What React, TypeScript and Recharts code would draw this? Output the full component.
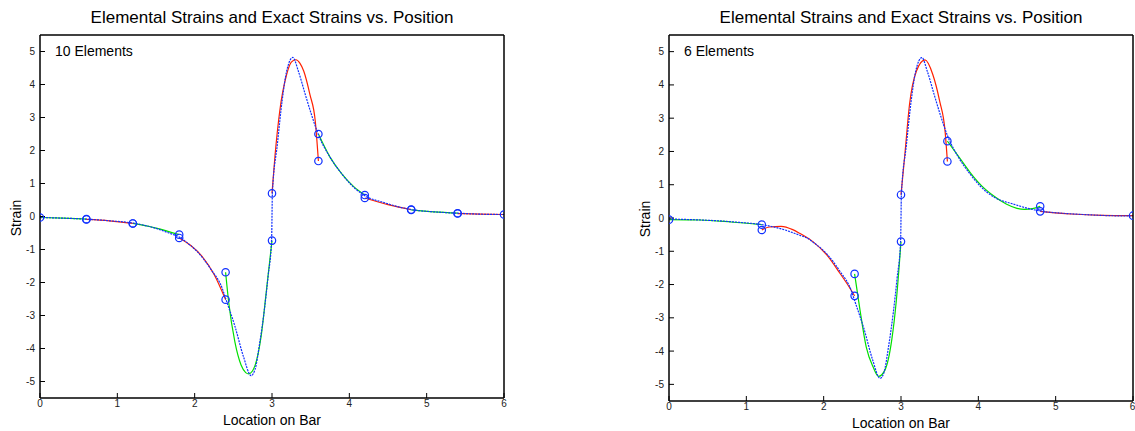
import React from 'react';
import { ComposedChart, Line, Scatter, XAxis, YAxis } from 'recharts';

type Pair = [number, number];

const xTicks = [0, 1, 2, 3, 4, 5, 6];
const yTicks = [-5, -4, -3, -2, -1, 0, 1, 2, 3, 4, 5];
const topTicks = [1, 2, 3, 4, 5];

const titleText = 'Elemental Strains and Exact Strains vs. Position';
const xLabelText = 'Location on Bar';
const yLabelText = 'Strain';
const panelLabels = ['10 Elements', '6 Elements'];

// exact strain (blue dotted)
const exactX = [0, 0.3, 0.6, 0.9, 1.2, 1.5, 1.69, 1.8, 1.86, 2.04, 2.21, 2.36, 2.4, 2.52, 2.63, 2.73, 2.78, 2.84, 2.9, 2.95, 2.995, 3.005, 3.07, 3.13, 3.19, 3.27, 3.34, 3.43, 3.51, 3.6, 3.75, 3.9, 4.02, 4.2, 4.45, 4.8, 5.1, 5.4, 5.7, 6.0];
const exactY = [-0.03, -0.05, -0.08, -0.13, -0.2, -0.36, -0.52, -0.62, -0.72, -1.08, -1.6, -2.2, -2.48, -3.32, -4.24, -4.82, -4.64, -3.85, -2.85, -1.8, -0.7, 0.7, 2.2, 3.49, 4.41, 4.82, 4.41, 3.7, 3.09, 2.48, 1.8, 1.3, 0.97, 0.63, 0.42, 0.21, 0.14, 0.1, 0.07, 0.06];

// 10-element solution (one array per element)
const ten1: Pair[] = [[0, -0.03], [0.3, -0.05], [0.6, -0.08]];
const ten2: Pair[] = [[0.6, -0.09], [0.9, -0.13], [1.2, -0.21]];
const ten3: Pair[] = [[1.2, -0.21], [1.5, -0.35], [1.8, -0.55]];
const ten4: Pair[] = [[1.8, -0.65], [1.95, -0.88], [2.1, -1.22], [2.25, -1.75], [2.4, -2.52]];
const ten5: Pair[] = [[2.4, -1.69], [2.44, -2.6], [2.52, -3.8], [2.6, -4.5], [2.66, -4.73], [2.7, -4.77], [2.78, -4.52], [2.86, -3.62], [2.93, -2.2], [3.0, -0.73]];
const ten6: Pair[] = [[3.0, 0.7], [3.04, 1.87], [3.1, 3.19], [3.19, 4.31], [3.25, 4.68], [3.31, 4.75], [3.36, 4.65], [3.41, 4.41], [3.49, 3.7], [3.56, 2.88], [3.6, 1.68]];
const ten7: Pair[] = [[3.6, 2.5], [3.75, 1.8], [3.9, 1.3], [4.05, 0.92], [4.2, 0.65]];
const ten8: Pair[] = [[4.2, 0.56], [4.5, 0.36], [4.8, 0.21]];
const ten9: Pair[] = [[4.8, 0.2], [5.1, 0.14], [5.4, 0.1]];
const ten10: Pair[] = [[5.4, 0.09], [5.7, 0.07], [6.0, 0.06]];

// 6-element solution
const six1: Pair[] = [[0, -0.05], [0.4, -0.06], [0.8, -0.12], [1.2, -0.2]];
const six2: Pair[] = [[1.2, -0.36], [1.3, -0.27], [1.45, -0.25], [1.6, -0.35], [1.69, -0.46], [1.86, -0.71], [2.04, -1.11], [2.21, -1.66], [2.34, -2.11], [2.4, -2.34]];
const six3: Pair[] = [[2.4, -1.68], [2.47, -2.77], [2.55, -3.87], [2.64, -4.48], [2.71, -4.76], [2.79, -4.58], [2.88, -3.67], [2.94, -2.47], [3.0, -0.71]];
const six4: Pair[] = [[3.0, 0.7], [3.05, 1.91], [3.11, 3.41], [3.2, 4.42], [3.31, 4.75], [3.41, 4.32], [3.5, 3.51], [3.57, 2.61], [3.6, 1.7]];
const six5: Pair[] = [[3.6, 2.31], [3.76, 1.8], [3.9, 1.35], [4.05, 0.95], [4.2, 0.66], [4.36, 0.42], [4.5, 0.29], [4.6, 0.26], [4.7, 0.28], [4.8, 0.35]];
const six6: Pair[] = [[4.8, 0.2], [5.2, 0.12], [5.6, 0.08], [6.0, 0.07]];

const tenElements = [ten1, ten2, ten3, ten4, ten5, ten6, ten7, ten8, ten9, ten10];
const sixElements = [six1, six2, six3, six4, six5, six6];

const elementColors = ['#00e000', '#ff2000'];
const FONT = '"Liberation Sans", Arial, Helvetica, sans-serif';

const toPts = (p: Pair[]) => p.map(([x, y]) => ({ x, y }));
const exactData = exactX.map((x, i) => ({ x, y: exactY[i] }));

const Ring = (props: any) => {
  const { cx, cy } = props;
  if (cx == null || cy == null) return <g />;
  return <circle cx={cx} cy={cy} r={3.7} fill="none" stroke="#1030ff" strokeWidth={1.2} />;
};

type PanelProps = {
  elements: Pair[][];
  left: number;
  width: number;
  marginRight: number;
  rightAxisW: number;
  bottomH: number;
  label: string;
};

const tickStyle = { fontSize: 10, fill: '#222', fontFamily: FONT };
const axisLine = { stroke: '#000', strokeWidth: 1.5 };

function Panel({ elements, left, width, marginRight, rightAxisW, bottomH, label }: PanelProps) {
  const height = 431;
  const plotLeft = 40;
  const plotRight = width - marginRight - rightAxisW;
  const plotTop = 35;
  const plotBottom = height - bottomH;
  const cx = (plotLeft + plotRight) / 2;
  const markers = elements.flatMap((el) => [el[0], el[el.length - 1]]);
  return (
    <div style={{ position: 'absolute', left, top: 0, width, height }}>
      <ComposedChart width={width} height={height} margin={{ top: 34, right: marginRight, bottom: 0, left: 0 }}>
        <XAxis
          xAxisId="b"
          dataKey="x"
          type="number"
          domain={[0, 6]}
          ticks={xTicks}
          allowDataOverflow
          orientation="bottom"
          height={bottomH}
          tickSize={-5}
          tickMargin={7}
          tick={tickStyle}
          axisLine={axisLine}
          tickLine={{ stroke: '#000', strokeWidth: 1 }}
        />
        <XAxis
          xAxisId="t"
          dataKey="x"
          type="number"
          domain={[0, 6]}
          ticks={topTicks}
          allowDataOverflow
          orientation="top"
          height={1}
          tickSize={-5}
          tick={false}
          axisLine={axisLine}
          tickLine={{ stroke: '#000', strokeWidth: 1 }}
        />
        <YAxis
          yAxisId="l"
          type="number"
          domain={[-5.5, 5.5]}
          ticks={yTicks}
          allowDataOverflow
          orientation="left"
          width={40}
          tickSize={-5}
          tickMargin={10}
          tick={tickStyle}
          axisLine={axisLine}
          tickLine={{ stroke: '#000', strokeWidth: 1 }}
        />
        <YAxis
          yAxisId="r"
          type="number"
          domain={[-5.5, 5.5]}
          ticks={yTicks}
          allowDataOverflow
          orientation="right"
          width={rightAxisW}
          tickSize={-5}
          tick={false}
          axisLine={axisLine}
          tickLine={{ stroke: '#000', strokeWidth: 1 }}
        />
        {elements.map((el, i) => (
          <Line
            key={'e' + i}
            xAxisId="b"
            yAxisId="l"
            data={toPts(el)}
            dataKey="y"
            type="monotone"
            stroke={elementColors[i % 2]}
            strokeWidth={1.2}
            dot={false}
            activeDot={false}
            isAnimationActive={false}
          />
        ))}
        <Line
          xAxisId="b"
          yAxisId="l"
          data={exactData}
          dataKey="y"
          type="monotone"
          stroke="#1030ff"
          strokeWidth={1.2}
          strokeDasharray="2 1"
          dot={false}
          activeDot={false}
          isAnimationActive={false}
        />
        <Scatter
          xAxisId="b"
          yAxisId="l"
          data={toPts(markers)}
          dataKey="y"
          shape={Ring}
          isAnimationActive={false}
        />
      </ComposedChart>
      <div
        style={{
          position: 'absolute', left: plotLeft, width: plotRight - plotLeft, top: 8, textAlign: 'center',
          fontFamily: FONT, fontSize: 17, lineHeight: '20px', color: '#000', whiteSpace: 'nowrap',
        }}
      >
        {titleText}
      </div>
      <div
        style={{
          position: 'absolute', left: cx - 100, width: 200, top: plotBottom + 14, textAlign: 'center',
          fontFamily: FONT, fontSize: 14, lineHeight: '16px', color: '#000', whiteSpace: 'nowrap',
        }}
      >
        {xLabelText}
      </div>
      <div
        style={{
          position: 'absolute', left: 16 - 30, width: 60, top: (plotTop + plotBottom) / 2 - 8 + 1,
          textAlign: 'center', fontFamily: FONT, fontSize: 14, lineHeight: '16px', color: '#000',
          transform: 'rotate(-90deg)', whiteSpace: 'nowrap',
        }}
      >
        {yLabelText}
      </div>
      <div
        style={{
          position: 'absolute', left: plotLeft + 15, top: plotTop + 8, fontFamily: FONT, fontSize: 14,
          lineHeight: '16px', color: '#000', whiteSpace: 'nowrap',
        }}
      >
        {label}
      </div>
    </div>
  );
}

export default function App() {
  return (
    <div style={{ position: 'absolute', left: 0, top: 0, width: 1135, height: 431, background: '#fff', overflow: 'hidden' }}>
      <Panel elements={tenElements} left={0} width={520} marginRight={15} rightAxisW={1} bottomH={33} label={panelLabels[0]} />
      <Panel elements={sixElements} left={629} width={506} marginRight={0} rightAxisW={2} bottomH={30} label={panelLabels[1]} />
    </div>
  );
}
